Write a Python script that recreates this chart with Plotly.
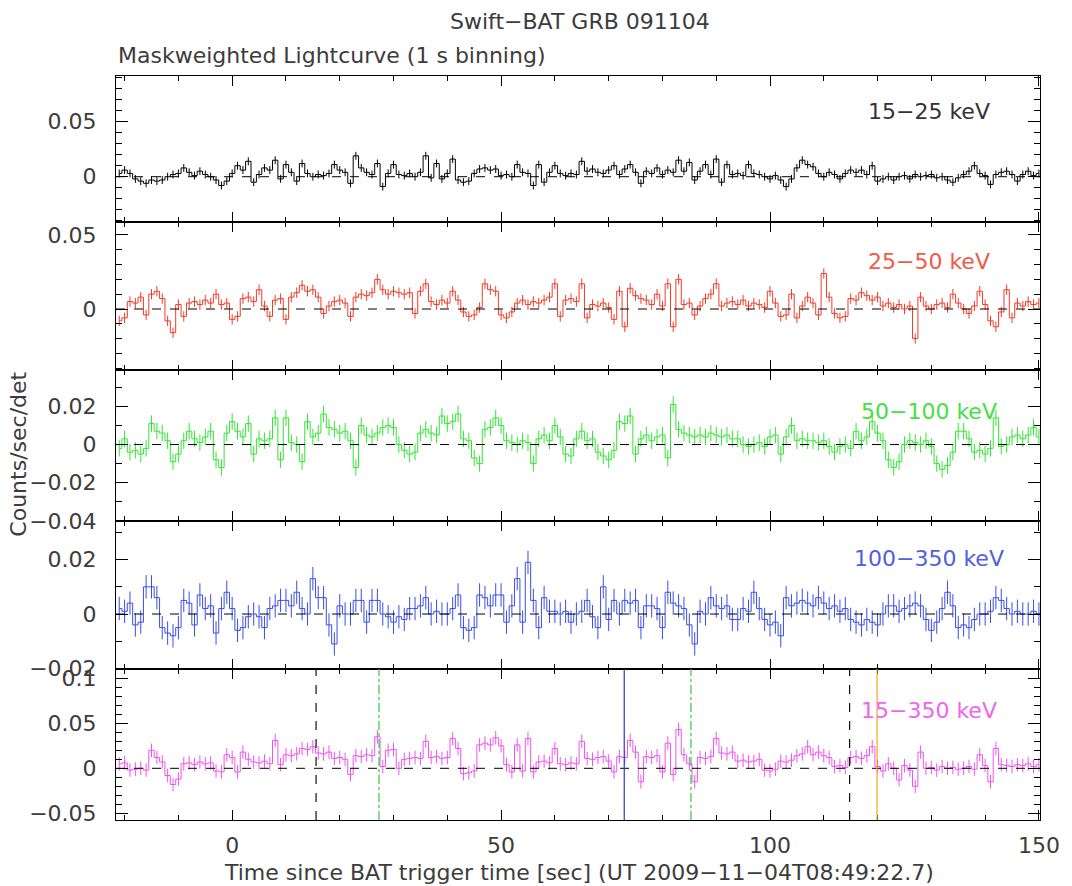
import plotly.graph_objects as go

# ---------------- data (rates in units of 1e-3 counts/sec/det) ----------------
time_s = list(range(-21, 151))  # 1 s bins, centres

rate_15_25 = [
    3, 6, 3, -2, -4, -6, -3, -4, -3, 0,
    2, 3, 8, 4, 1, 5, 2, 0, -3, -8,
    -4, 3, 10, 6, 14, -5, 2, 8, 6, 15,
    -2, 11, 4, -4, 12, 3, 0, 2, 1, 3,
    11, 6, 4, -6, 19, 8, 4, 2, 12, -9,
    3, 11, 2, 1, 3, 0, 4, 19, -1, 12,
    -2, 3, 16, -3, -5, -4, 3, 7, 8, 6,
    7, 1, 2, 0, 11, 4, 3, -8, 11, -5,
    4, 10, 3, 1, 3, 2, 14, 5, 7, 4,
    3, 6, 10, 2, 7, 11, 4, -6, 5, 3,
    8, 2, 6, 4, 15, 5, 13, -3, 5, 11,
    2, 16, -5, 11, 2, 3, 1, 11, 3, 2,
    0, -2, 1, -3, -9, -2, 8, 15, 11, 9,
    3, 0, 4, 2, -2, 3, 6, 4, 6, 2,
    10, -4, -2, 0, -3, 0, 1, -2, 2, 0,
    1, 2, -1, 0, -3, -5, -1, 2, 5, 10,
    3, 1, -7, 2, 4, 5, 2, -4, 2, 5,
    1, 3,
]

rate_25_50 = [
    -8, -6, 5, 4, 8, -4, 10, 12, 7, -8,
    -16, 3, -5, 4, 5, 3, 6, 4, 10, 3,
    4, -7, -5, 7, 8, 5, 13, 2, -5, 6,
    7, -7, 8, 11, 16, 12, 13, 8, -3, 2,
    5, 6, 4, -5, 8, 10, 9, 11, 20, 13,
    10, 12, 11, 10, 11, -3, 12, 17, 5, 3,
    6, 4, 12, 6, -2, -5, -4, 1, 17, 13,
    12, -4, -6, -2, 4, 6, 3, 5, 4, 6,
    8, 17, -5, 6, 7, 5, 17, -6, 3, 2,
    4, 1, -7, 12, -12, 14, 9, 7, 6, 3,
    10, 2, 17, -12, 20, 3, 4, -4, 2, 7,
    10, 17, 2, 4, 5, 3, 6, 2, 4, 3,
    1, 12, 4, -5, -4, 10, -6, 2, 8, 4,
    -4, 24, 8, -3, -6, -5, 7, 6, 11, 9,
    6, 8, 2, 4, 1, 3, 0, 2, -20, 8,
    2, 0, 3, 4, 1, 10, 4, 0, -3, 2,
    12, 3, -8, -12, -2, 13, -6, 4, 2, 5,
    3, 4,
]

rate_50_100 = [
    -2, 3, -4, -3, -5, -2, 11, 7, 6, 2,
    -9, -5, 2, 7, 3, 1, 4, 7, -8, -12,
    6, 12, 7, 4, 11, -5, 3, 2, 3, 14,
    -8, 14, 1, 0, -9, 12, 4, 6, 16, 9,
    8, 6, 7, 2, -12, 10, 5, 4, 6, 9,
    10, 9, 0, -3, -5, -4, 6, 8, 6, 5,
    15, 11, 12, 16, 3, 2, -7, -10, 8, 9,
    14, 10, 2, 1, 0, 2, 1, -10, 3, 5,
    2, 10, 4, -5, -6, 3, 7, 2, 3, -4,
    -6, -8, -3, 12, 11, 15, -5, 3, 5, 2,
    4, 5, -7, 21, 8, 6, 5, 4, 5, 4,
    6, 5, 4, 5, 3, 3, 0, -1, 0, 1,
    -1, 4, 5, -5, 4, 10, 2, 3, 2, 2,
    1, 2, -1, -4, -1, 0, -2, 7, 2, 4,
    12, 6, 2, -8, -12, -9, 0, 2, 1, 0,
    2, -1, -10, -13, -11, -4, 7, 7, 3, -4,
    -3, -5, -2, 14, -1, 0, 4, 5, 3, 5,
    9, 4,
]

rate_100_350 = [
    2, 1, 4, -4, -3, 10, 10, 6, -5, -7,
    -8, -5, 5, 4, -4, 7, 2, 3, -7, 2,
    8, 2, -6, -5, -1, 0, -1, -5, 2, 3,
    5, 5, 3, 8, 2, 0, 13, 6, 6, -4,
    -11, 3, 0, 0, 5, 5, -3, 5, 5, 0,
    -1, -3, -1, -2, 2, 2, 3, 6, 0, 1,
    0, 0, 2, 7, -5, -6, -5, 7, 6, 3,
    7, 7, -3, 3, 13, -3, 19, 5, -5, 6,
    1, 1, 0, 1, -3, 0, 1, 5, -1, -5,
    10, -2, 5, 0, 5, 4, 5, -5, 3, 3,
    2, -5, 8, 4, 3, 2, -4, -11, 1, 0,
    6, 3, 2, 3, -2, -2, 2, 1, 8, 2,
    -2, -4, -3, -8, 6, 3, 4, 5, 4, 3,
    6, 4, 2, 3, 1, 2, -2, -3, -4, -2,
    -3, -4, 0, 3, 3, 1, 2, 3, 4, 3,
    -2, -6, -3, 2, 8, 3, -5, -4, -5, -2,
    0, 0, 1, 6, 5, 2, 0, 1, 0, 0,
    1, 0,
]

rate_15_350 = [
    5, 6, -2, -1, 0, -2, 20, 12, 7, -8,
    -18, -12, 5, 6, 4, 7, 5, 6, -3, -4,
    15, 12, -4, 18, 10, 7, 6, 8, 5, 31,
    4, 15, 14, 16, 22, 21, 24, 17, 16, 18,
    11, 12, 10, -7, 14, 13, 15, 14, 35, 2,
    20, 21, 0, 10, 11, 12, 11, 30, 12, 13,
    11, 12, 33, 22, -6, -5, -3, 26, 28, 26,
    34, 25, 4, -4, 26, -3, 33, -4, 7, 8,
    6, 22, 5, 4, 6, 5, 30, 11, 10, 12,
    13, 8, -4, 13, 12, 31, 18, -15, 13, 12,
    14, -4, 28, -7, 43, 15, 5, -15, 12, 11,
    13, 33, 17, 16, 18, 8, 9, 7, 8, 10,
    -2, -3, -1, 8, 7, 9, 14, 16, 24, 15,
    18, 14, 12, 2, 3, 1, 12, 13, 11, 14,
    24, 2, -3, 5, 0, -13, 3, -2, -20, 18,
    0, 1, -2, 2, 0, 1, -1, 0, 2, -1,
    15, 3, -15, 22, 4, 3, 2, 4, 3, 5,
    2, 4,
]

band_labels = ["15\u221225 keV", "25\u221250 keV", "50\u2212100 keV", "100\u2212350 keV", "15\u2212350 keV"]
band_rates = [rate_15_25, rate_25_50, rate_50_100, rate_100_350, rate_15_350]
band_errors = [3.6, 3.5, 4.3, 4.3, 7.5]  # typical 1-sigma error, 1e-3 units

# time markers (s) in the 15-350 keV panel
marker_times = [15.6, 27.3, 72.9, 85.3, 114.8, 119.9]

# ---------------- styling ----------------
band_colors = ["#000000", "#f03c28", "#33e633", "#3b4ee8", "#ee55ee"]
label_colors = ["#333333", "#f05a48", "#44e044", "#5060e0", "#ee66ee"]
marker_colors = ["#111111", "#33cc33", "#2a3bd0", "#33cc33", "#111111", "#ffa020"]
marker_dash = ["dash", "dashdot", "solid", "dashdot", "dash", "solid"]

y_domains = [(0.8031, 1.0), (0.6048, 0.8031), (0.4019, 0.6048), (0.2030, 0.4019), (0.0, 0.2030)]
y_ranges = [(-0.0416, 0.0915), (-0.0412, 0.0584), (-0.0401, 0.0391), (-0.0202, 0.0342), (-0.0574, 0.1103)]
y_dticks = [0.05, 0.05, 0.02, 0.02, 0.05]
label_y = [0.9526, 0.7504, 0.5493, 0.3512, 0.1478]
label_x = 0.8797
x_range = (-21.6, 150.2)

FONT = "DejaVu Sans"
FS = 22
TXT = "#3c3c3c"

fig = go.Figure()
layout = {}
shapes = []
annotations = []

for i in range(5):
    n = i + 1
    xs = "" if n == 1 else str(n)
    vals = [v / 1000.0 for v in band_rates[i]]
    err = band_errors[i] / 1000.0
    fig.add_trace(go.Scatter(
        x=time_s, y=vals, mode="lines",
        line=dict(color=band_colors[i], width=1, shape="hvh"),
        error_y=dict(type="constant", value=err, width=0, thickness=1, color=band_colors[i]),
        xaxis="x" + xs, yaxis="y" + xs, showlegend=False, hoverinfo="skip",
    ))
    layout["xaxis" + xs] = dict(
        domain=[0, 1], anchor="y" + xs, range=list(x_range),
        showline=True, linecolor="black", linewidth=1, mirror="allticks",
        ticks="inside", ticklen=10, tickwidth=1, tickcolor="black",
        tick0=0, dtick=50,
        minor=dict(dtick=10, ticks="inside", ticklen=5, tickcolor="black", tickwidth=1),
        showgrid=False, zeroline=False,
        showticklabels=(n == 5), ticklabelstandoff=6,
        tickfont=dict(family=FONT, size=FS, color=TXT),
    )
    if n != 5:
        layout["xaxis" + xs]["matches"] = "x5"
    layout["yaxis" + xs] = dict(
        domain=list(y_domains[i]), anchor="x" + xs, range=list(y_ranges[i]),
        showline=True, linecolor="black", linewidth=1, mirror="allticks",
        ticks="inside", ticklen=12, tickwidth=1, tickcolor="black",
        tick0=0, dtick=y_dticks[i],
        minor=dict(dtick=0.01, ticks="inside", ticklen=6, tickcolor="black", tickwidth=1),
        showgrid=False, zeroline=False, ticklabelstandoff=14,
        tickfont=dict(family=FONT, size=FS, color=TXT),
    )
    # dashed zero reference line
    shapes.append(dict(type="line", xref="x" + xs + " domain", yref="y" + xs,
                       x0=0, x1=1, y0=0, y1=0,
                       line=dict(color="black", width=1, dash="dash")))
    annotations.append(dict(text=band_labels[i], xref="paper", yref="paper",
                            x=label_x, y=label_y[i], xanchor="center", yanchor="middle",
                            showarrow=False,
                            font=dict(family=FONT, size=FS, color=label_colors[i])))

for t, c, d in zip(marker_times, marker_colors, marker_dash):
    shapes.append(dict(type="line", xref="x5", yref="y5 domain", x0=t, x1=t, y0=0, y1=1,
                       line=dict(color=c, width=1.2, dash=d)))

annotations += [
    dict(text="Swift\u2212BAT GRB 091104", xref="paper", yref="paper", x=0.5027, y=1.0726,
         xanchor="center", yanchor="middle", showarrow=False,
         font=dict(family=FONT, size=FS, color=TXT)),
    dict(text="Maskweighted Lightcurve (1 s binning)", xref="paper", yref="paper", x=0.0, y=1.028,
         xanchor="left", yanchor="middle", showarrow=False,
         font=dict(family=FONT, size=FS, color=TXT)),
    dict(text="Time since BAT trigger time [sec] (UT 2009\u221211\u221204T08:49:22.7)",
         xref="paper", yref="paper", x=0.5016, y=-0.0699,
         xanchor="center", yanchor="middle", showarrow=False,
         font=dict(family=FONT, size=FS, color=TXT)),
    dict(text="Counts/sec/det", xref="paper", yref="paper", x=-0.1053, y=0.492,
         xanchor="center", yanchor="middle", textangle=-90, showarrow=False,
         font=dict(family=FONT, size=FS, color=TXT)),
]

fig.update_layout(
    width=1072, height=886,
    margin=dict(l=116, r=25, t=76, b=66),
    paper_bgcolor="white", plot_bgcolor="white",
    shapes=shapes, annotations=annotations,
    showlegend=False,
    **layout,
)

fig.write_html(
    "out.html",
    config={"displayModeBar": False},
    post_script="document.body.style.margin='0px';document.body.style.overflow='hidden';",
)
